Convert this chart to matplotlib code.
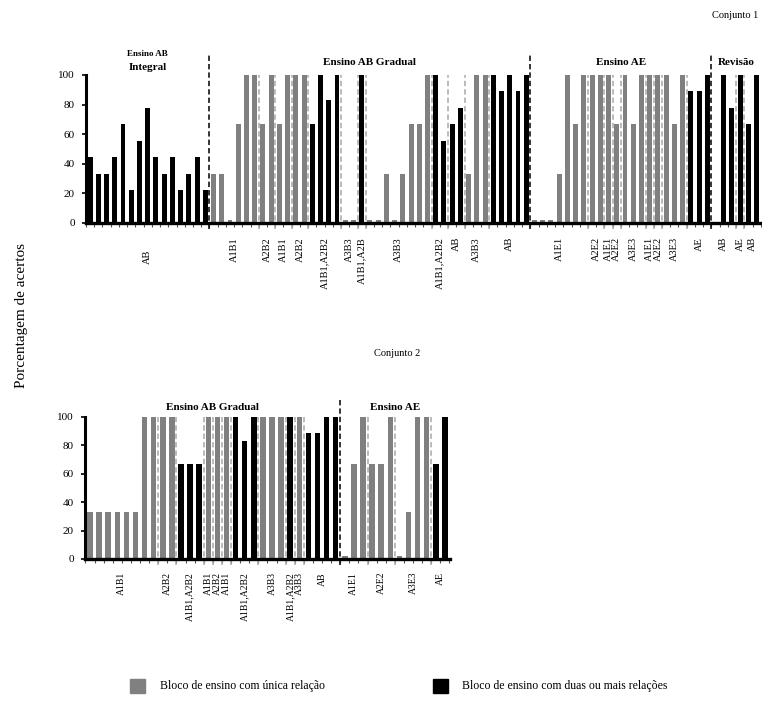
import numpy as np
import matplotlib
matplotlib.use("Agg")
import matplotlib.pyplot as plt
from matplotlib.patches import Rectangle

plt.rcParams['font.family'] = ['Liberation Serif', 'DejaVu Serif']

GREY = '#808080'
BLACK = '#000000'
SEP = '#a8a8a8'

# ---------------- data: Conjunto 1 ----------------
top_section_titles = ["Ensino AB Integral", "Ensino AB Gradual", "Ensino AE", "Revisão"]
top_group_section = [0,
                     1, 1, 1, 1, 1, 1, 1, 1, 1, 1, 1, 1,
                     2, 2, 2, 2, 2, 2, 2, 2, 2,
                     3, 3, 3]
top_group_labels = ["AB",
                    "A1B1", "A2B2", "A1B1", "A2B2", "A1B1,A2B2", "A3B3", "A1B1,A2B",
                    "A3B3", "A1B1,A2B2", "AB", "A3B3", "AB",
                    "A1E1", "A2E2", "A1E1", "A2E2", "A3E3", "A1E1", "A2E2", "A3E3", "AE",
                    "AB", "AE", "AB"]
top_group_multi = [True,
                   False, False, False, False, True, False, True,
                   False, True, True, False, True,
                   False, False, False, False, False, False, False, False, True,
                   True, True, True]
top_group_values = [
    [44.4, 33.3, 33.3, 44.4, 66.7, 22.2, 55.6, 77.8, 44.4, 33.3, 44.4, 22.2, 33.3, 44.4, 22.2],
    [33.3, 33.3, 2, 66.7, 100, 100],
    [66.7, 100],
    [66.7, 100],
    [100, 100],
    [66.7, 100, 83.3, 100],
    [2, 2],
    [100],
    [2, 2, 33.3, 2, 33.3, 66.7, 66.7, 100],
    [100, 55.6],
    [66.7, 77.8],
    [33.3, 100, 100],
    [100, 88.9, 100, 88.9, 100],
    [2, 2, 2, 33.3, 100, 66.7, 100],
    [100, 100],
    [100],
    [66.7],
    [100, 66.7, 100],
    [100],
    [100],
    [100, 66.7, 100],
    [88.9, 88.9, 100],
    [0, 100, 77.8],
    [100],
    [66.7, 100],
]

# ---------------- data: Conjunto 2 ----------------
bot_section_titles = ["Ensino AB Gradual", "Ensino AE"]
bot_group_section = [0, 0, 0, 0, 0, 0, 0, 0, 0, 0, 0, 1, 1, 1, 1]
bot_group_labels = ["A1B1", "A2B2", "A1B1,A2B2", "A1B1", "A2B2", "A1B1", "A1B1,A2B2",
                    "A3B3", "A1B1,A2B2", "A3B3", "AB",
                    "A1E1", "A2E2", "A3E3", "AE"]
bot_group_multi = [False, False, True, False, False, False, True,
                   False, True, False, True,
                   False, False, False, True]
bot_group_values = [
    [33.3, 33.3, 33.3, 33.3, 33.3, 33.3, 100, 100],
    [100, 100],
    [66.7, 66.7, 66.7],
    [100],
    [100],
    [100],
    [100, 83.3, 100],
    [100, 100, 100],
    [100],
    [100],
    [88.9, 88.9, 100, 100],
    [2, 66.7, 100],
    [66.7, 66.7, 100],
    [2, 33.3, 100, 100],
    [66.7, 100],
]

legend_labels = ["Bloco de ensino com única relação",
                 "Bloco de ensino com duas ou mais relações"]

W, H = 762, 714
fig = plt.figure(figsize=(W / 100, H / 100), dpi=100)


def rect(x0, x1, ybot, ytop):
    return [x0 / W, 1 - ybot / H, (x1 - x0) / W, (ybot - ytop) / H]


def draw(ax, gsec, glabels, gmulti, gvalues, xlim, label_off,
         label_fs, div_top, first_label_off=None):
    pos = 0
    sec_start = {}
    sec_end = {}
    prev_sec = None
    for gi, (s, lab, multi, vals) in enumerate(zip(gsec, glabels, gmulti, gvalues)):
        n = len(vals)
        xs = np.arange(pos, pos + n)
        ax.bar(xs, vals, width=0.6, color=BLACK if multi else GREY,
               linewidth=0, zorder=2)
        if prev_sec is not None:
            b = pos - 0.5
            if s != prev_sec:
                ax.plot([b, b], [-4, div_top], color=BLACK, lw=1.1,
                        ls=(0, (3.5, 2)), clip_on=False, zorder=3)
            else:
                ax.plot([b, b], [-4, 100], color=SEP, lw=1.1,
                        ls=(0, (3.5, 2)), clip_on=False, zorder=3)
        if s not in sec_start:
            sec_start[s] = pos - 0.5
        sec_end[s] = pos + n - 0.5
        xc = (xs[0] + xs[-1]) / 2
        off = label_off
        if gi == 0 and first_label_off is not None:
            off = first_label_off
        ax.annotate(lab, xy=(xc, 0), xycoords=('data', 'axes fraction'),
                    xytext=(0, -off), textcoords='offset pixels',
                    rotation=90, ha='center', va='top', fontsize=label_fs,
                    annotation_clip=False)
        prev_sec = s
        pos += n
    sec_start[gsec[0]] = xlim[0]
    sec_end[gsec[-1]] = xlim[1]
    ax.set_xlim(*xlim)
    ax.set_ylim(0, 100)
    ax.set_yticks([0, 20, 40, 60, 80, 100])
    ax.tick_params(axis='y', labelsize=8, length=3, width=1.2, pad=5)
    ax.set_xticks([])
    ax.set_xticks(np.arange(-0.5, pos, 1.0), minor=True)
    ax.tick_params(axis='x', which='minor', length=3, width=0.8, color='#555555')
    for sp in ['top', 'right']:
        ax.spines[sp].set_visible(False)
    ax.spines['left'].set_linewidth(2.2)
    ax.spines['bottom'].set_linewidth(2.4)
    ax.spines['bottom'].set_zorder(4)
    return sec_start, sec_end


# ---------- top chart ----------
ax1 = fig.add_axes(rect(86, 762, 223, 75))
ss, se = draw(ax1, top_group_section, top_group_labels,
              top_group_multi, top_group_values, (-0.49, 81.65),
              label_off=14, label_fs=7.5, div_top=113.5,
              first_label_off=27)
for s, t in enumerate(top_section_titles):
    xc = (ss[s] + se[s]) / 2
    if s == 0:
        ax1.text(xc, 114.5, "Ensino AB", ha='center', va='center',
                 fontsize=6.5, fontweight='bold', clip_on=False)
        ax1.text(xc, 105.3, "Integral", ha='center', va='center',
                 fontsize=8, fontweight='bold', clip_on=False)
    else:
        ax1.text(xc, 108.5, t, ha='center', va='center', fontsize=8,
                 fontweight='bold', clip_on=False)

# ---------- bottom chart ----------
ax2 = fig.add_axes(rect(85, 450, 559, 417))
ss2, se2 = draw(ax2, bot_group_section, bot_group_labels,
                bot_group_multi, bot_group_values, (-0.55, 39.56),
                label_off=13, label_fs=7, div_top=112)
for s, t in enumerate(bot_section_titles):
    xc = (ss2[s] + se2[s]) / 2
    ax2.text(xc, 107, t, ha='center', va='center', fontsize=8,
             fontweight='bold', clip_on=False)

# ---------- figure texts ----------
fig.text(735 / W, 1 - 15 / H, "Conjunto 1", ha='center', va='center', fontsize=7.5)
fig.text(397 / W, 1 - 353 / H, "Conjunto 2", ha='center', va='center', fontsize=7.5)
fig.text(22 / W, 1 - 316 / H, "Porcentagem de acertos", rotation=90,
         ha='center', va='center', fontsize=11)

# legend
fig.patches.append(Rectangle((130 / W, 1 - 693 / H), 15 / W, 14 / H,
                             transform=fig.transFigure, color=GREY))
fig.text(160 / W, 1 - 686 / H, legend_labels[0], ha='left', va='center', fontsize=8.5)
fig.patches.append(Rectangle((433 / W, 1 - 693 / H), 15 / W, 14 / H,
                             transform=fig.transFigure, color=BLACK))
fig.text(462 / W, 1 - 686 / H, legend_labels[1], ha='left', va='center', fontsize=8.5)

fig.savefig("out.png", dpi=100)
